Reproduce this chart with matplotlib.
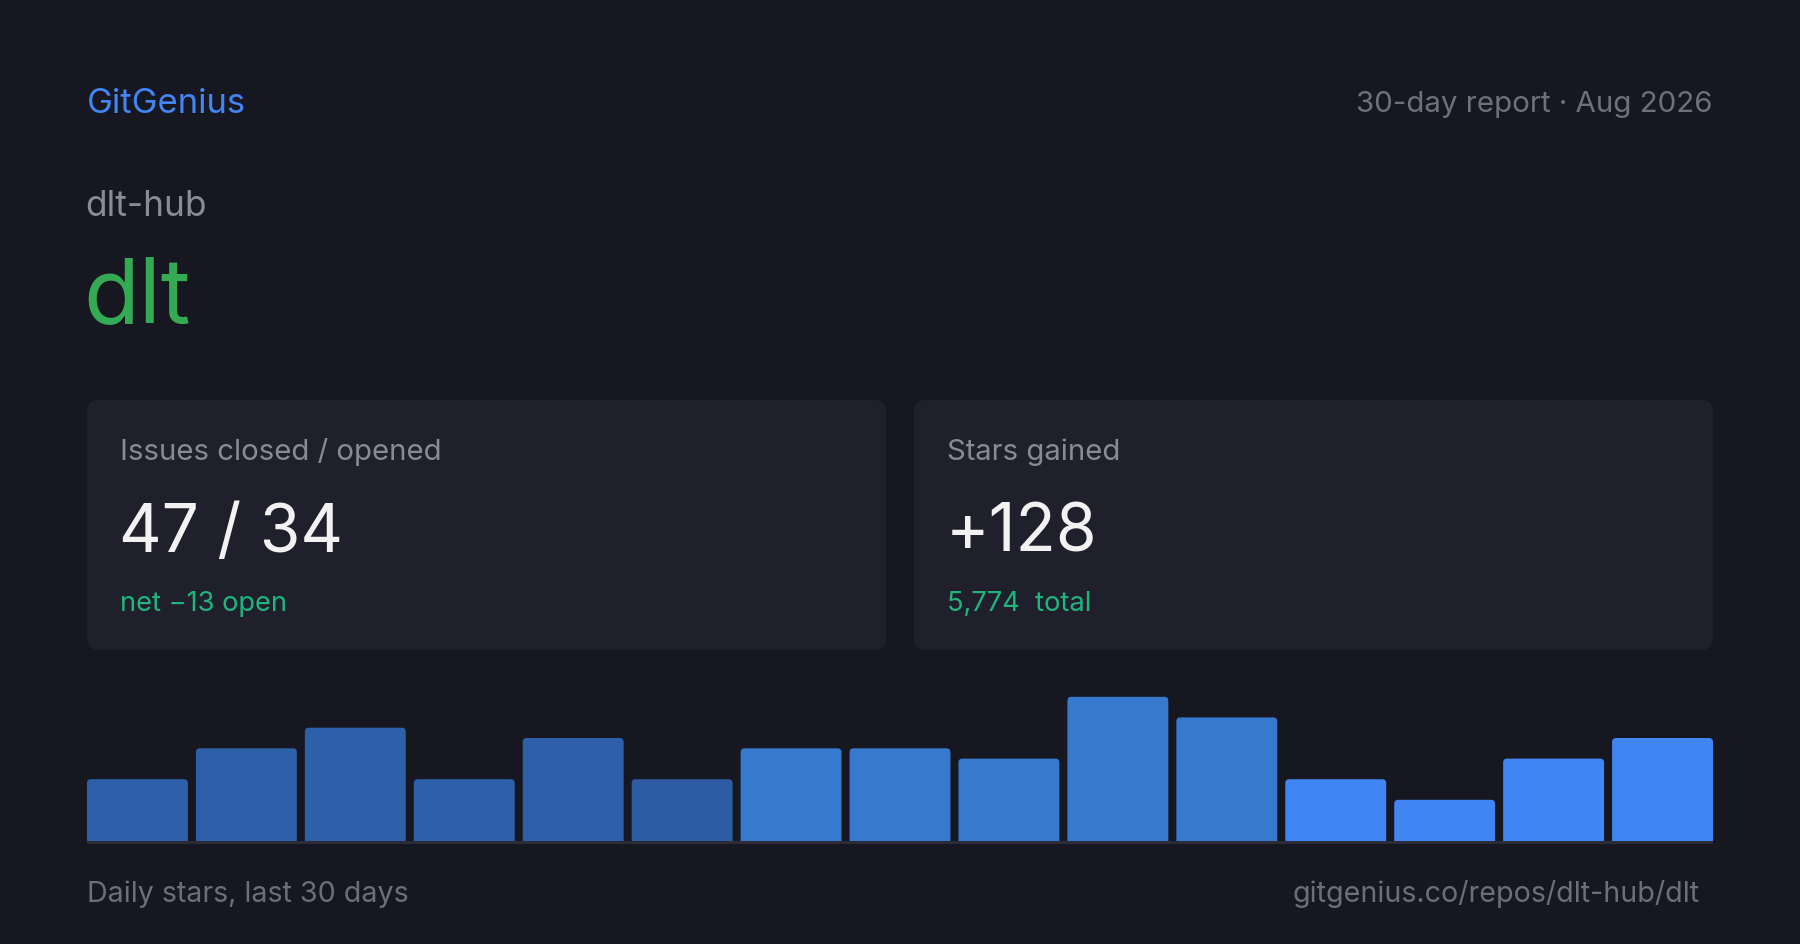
import matplotlib
matplotlib.use("Agg")
import matplotlib.pyplot as plt
from matplotlib.patches import FancyBboxPatch, Rectangle

# ---- data ----
brand = "GitGenius"
report_label = "30-day report · Aug 2026"
owner = "dlt-hub"
repo = "dlt"
card_titles = ["Issues closed / opened", "Stars gained"]
card_values = ["47 / 34", "+128"]
card_subs = ["net −13 open", "5,774  total"]
daily_stars = [6, 9, 11, 6, 10, 6, 9, 9, 8, 14, 12, 6, 4, 8, 10]
bar_colors = ["#2e60aa"] * 5 + ["#2d5ba4"] + ["#3779cc"] * 5 + ["#4085f1"] * 4
footer_left = "Daily stars, last 30 days"
footer_right = "gitgenius.co/repos/dlt-hub/dlt"

W, H = 1800, 945
BG = "#161720"
CARD = "#1f202b"
FONT = ["Inter", "DejaVu Sans"]
plt.rcParams["font.family"] = FONT

fig = plt.figure(figsize=(W / 100, H / 100), dpi=100, facecolor=BG)
ov = fig.add_axes([0, 0, 1, 1])
ov.set_xlim(0, W)
ov.set_ylim(H, 0)
ov.axis("off")
ov.set_facecolor(BG)

def pt(px):
    return px * 72 / 100

# header
ov.text(87, 113, brand, color="#4285f4", fontsize=pt(34.7), va="baseline", ha="left")
ov.text(1712, 112, report_label, color="#70707a", fontsize=pt(29.5), va="baseline", ha="right")
ov.text(85, 216, owner, color="#8b8b94", fontsize=pt(35.3), va="baseline", ha="left")
ov.text(83, 323, repo, color="#34aa53", fontsize=pt(91), va="baseline", ha="left")

# cards
card_x = [87, 914]
card_w = 799
for i in range(2):
    x0 = card_x[i]
    ov.add_patch(FancyBboxPatch((x0, 401), card_w, 250,
                                boxstyle="round,pad=0,rounding_size=12",
                                facecolor=CARD, edgecolor="none"))
    tx = x0 + 34
    ov.text(tx - 1, 460, card_titles[i], color="#8a8a94", fontsize=pt(29.3), va="baseline")
    ov.text(tx - 2, 552, card_values[i], color="#f2f2f2", fontsize=pt(66), va="baseline")
    ov.text(tx - 1, 611, card_subs[i], color="#1fb57d", fontsize=pt(27.3), va="baseline")

# bar chart
left_px, right_px, base_px, top_px = 87, 1713, 842, 692
px_per_star = 10.3
ax = fig.add_axes([left_px / W, (H - base_px) / H,
                   (right_px - left_px) / W, (base_px - top_px) / H])
ax.set_facecolor("none")
bw = 0.9265
n = len(daily_stars)
ax.set_xlim(-bw / 2, n - 1 + bw / 2)
ax.set_ylim(0, (base_px - top_px) / px_per_star)
ax.axis("off")
bars = ax.bar(range(n), daily_stars, width=bw, color=bar_colors)
x_px_per_unit = (right_px - left_px) / (n - 1 + bw)
r_x = 4 / x_px_per_unit
aspect = x_px_per_unit / px_per_star
ext = 0.6
for b, c in zip(bars, bar_colors):
    x, y, w, h = b.get_x(), b.get_y(), b.get_width(), b.get_height()
    b.remove()
    ax.add_patch(FancyBboxPatch((x, y - ext), w, h + ext,
                                boxstyle=f"round,pad=0,rounding_size={r_x}",
                                mutation_aspect=aspect,
                                facecolor=c, edgecolor="none"))

ov.add_patch(Rectangle((87, 842), 1626, 2.5, facecolor="#2b2c38", edgecolor="none"))

# footer
ov.text(87, 902, footer_left, color="#6e6e78", fontsize=pt(28.6), va="baseline")
ov.text(1700, 902, footer_right, color="#6e6e78", fontsize=pt(28.6), va="baseline", ha="right")

fig.savefig("out.png", dpi=100, facecolor=BG)
